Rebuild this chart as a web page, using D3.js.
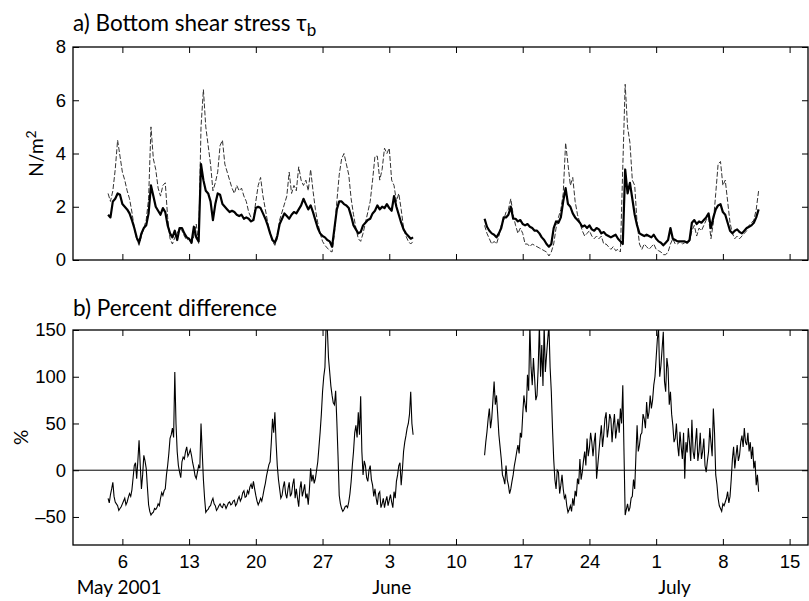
<!DOCTYPE html>
<html lang="en">
<head>
<meta charset="UTF-8">
<title>Bottom shear stress and percent difference</title>
<script src="https://d3js.org/d3.v7.min.js"></script>
<style>
  body { margin: 0; background: #fff; }
  svg { font-family: "Lato", sans-serif; }
</style>
</head>
<body>
<svg id="chart" width="809" height="601"></svg>
<script>
// two records with a gap in June; stress every 6 h, percent every 3 h
const TAU_STEP_HOURS = 6;
const PCT_STEP_HOURS = 3;
const seg1Start = "2001-05-04T12:00Z";
const seg2Start = "2001-06-13T00:00Z";

// a) bottom stress, solid line (N/m^2)
const tauSolid1 = [1.7,1.6,2.2,2.3,2.5,2.45,2.1,2.0,1.9,1.75,1.5,1.2,0.85,0.65,1.0,1.2,1.3,1.75,2.8,2.4,2.0,1.85,1.7,1.95,1.8,1.3,1.0,0.85,1.1,0.75,1.2,1.2,1.0,0.85,0.8,0.65,1.25,0.85,0.7,3.6,3.0,2.6,2.5,2.2,1.5,2.1,2.5,2.45,2.1,2.0,1.9,1.8,1.85,1.8,1.7,1.65,1.7,1.55,1.6,1.55,1.45,1.5,1.95,2.0,1.95,1.75,1.55,1.3,1.0,0.75,0.65,0.9,1.35,1.55,1.75,1.65,1.55,1.7,1.8,1.75,1.9,2.05,2.3,2.1,1.9,2.05,1.8,1.5,1.2,1.0,0.9,0.85,0.75,0.7,0.5,1.2,1.9,2.2,2.2,2.1,2.05,1.95,1.65,1.3,1.15,1.0,1.05,1.3,1.4,1.5,1.55,1.75,1.85,2.05,1.9,2.0,1.95,2.1,1.95,1.85,2.4,2.0,1.7,1.4,1.15,1.0,0.9,0.8,0.85];
const tauSolid2 = [1.55,1.25,1.1,1.0,0.95,0.85,1.0,1.2,1.6,1.6,1.7,2.0,1.55,1.55,1.45,1.5,1.35,1.3,1.35,1.25,1.2,1.1,1.1,1.0,0.85,0.75,0.6,0.5,0.6,1.2,1.45,1.4,1.6,2.2,2.7,2.1,2.0,1.75,1.6,1.5,1.4,1.25,1.3,1.2,1.3,1.15,1.1,1.2,1.15,1.0,1.05,0.95,0.9,0.85,0.9,0.95,0.8,0.7,0.6,3.4,2.5,2.9,2.3,1.7,1.3,1.0,0.95,0.9,0.95,0.9,0.85,0.95,0.8,0.7,0.65,0.55,0.65,0.75,1.2,0.8,0.75,0.7,0.7,0.7,0.7,0.65,0.75,1.4,1.5,1.35,1.45,1.4,1.5,1.6,1.75,1.2,1.6,1.9,2.05,2.1,1.8,1.7,1.4,1.1,1.0,1.1,1.15,1.05,1.0,1.1,1.2,1.25,1.3,1.4,1.6,1.9];

// a) bottom stress, dashed line (N/m^2)
const tauDashed1 = [2.5,2.2,2.6,3.4,4.5,3.9,3.3,3.0,2.6,2.3,1.8,1.2,0.8,0.55,0.9,1.2,1.5,2.3,5.0,3.8,3.4,2.7,2.4,2.8,2.9,1.6,0.8,0.6,0.85,1.0,1.2,1.1,0.9,0.75,0.8,0.6,0.9,1.35,0.6,5.0,6.4,5.0,4.3,3.6,2.6,2.9,3.3,4.3,4.5,3.6,3.3,3.0,2.7,2.5,2.8,2.6,2.7,2.4,2.2,1.8,1.6,1.5,2.2,2.8,3.1,2.4,1.9,1.4,1.0,0.7,0.55,0.8,1.5,1.8,2.1,2.4,3.3,2.5,2.8,2.6,3.5,3.0,2.8,3.0,2.6,3.4,2.6,1.9,1.4,1.0,0.7,0.55,0.45,0.35,0.3,1.0,2.2,3.2,3.8,4.0,3.6,3.2,2.3,1.7,1.2,0.8,0.7,1.0,1.4,1.8,2.2,3.0,3.9,3.9,3.0,3.4,4.2,4.0,4.2,3.0,2.8,2.2,2.5,1.9,1.2,0.9,0.7,0.6,0.7];
const tauDashed2 = [1.3,1.0,0.8,0.6,0.7,0.6,0.9,1.3,1.5,1.8,1.9,2.3,1.7,1.3,1.0,1.2,1.0,0.6,0.6,0.5,0.6,0.55,0.5,0.45,0.4,0.35,0.3,0.15,0.3,0.6,1.2,1.6,1.9,2.5,4.4,3.6,2.8,3.1,2.2,1.7,1.4,1.1,0.9,1.0,1.1,0.9,0.8,0.9,0.8,0.9,0.6,0.6,0.5,0.4,0.5,0.35,0.4,0.3,3.5,6.6,5.0,4.4,3.0,2.8,1.4,0.6,0.4,0.6,0.5,0.4,0.5,0.6,0.4,0.35,0.3,0.2,0.2,0.3,0.6,0.8,0.6,0.6,0.7,0.6,0.65,0.7,0.7,1.1,1.3,0.9,1.2,1.1,1.3,1.5,1.6,0.8,1.4,2.5,3.6,3.7,2.8,3.0,2.2,1.4,1.0,0.8,0.9,0.8,0.9,1.0,1.1,1.3,1.4,1.5,1.9,2.6];

// b) percent difference (%)
const pctDiff1 = [-30,-35,-26,-20,-13,-28,-34,-36,-38,-43,-41,-39,-36,-33,-30,-37,-34,-29,-25,-28,-21,-8,5,8,-9,10,32,5,-20,-5,16,10,2,-18,-37,-44,-48,-46,-45,-41,-42,-40,-36,-38,-30,-24,-27,-22,-20,-5,5,18,34,38,45,35,105,50,20,5,-2,-8,9,14,12,20,25,15,18,22,16,8,2,-6,-9,-2,5,2,50,20,-10,-30,-45,-43,-42,-39,-38,-33,-30,-36,-38,-43,-41,-38,-36,-39,-40,-36,-37,-41,-38,-35,-34,-37,-36,-33,-32,-38,-36,-31,-28,-33,-30,-24,-22,-29,-28,-22,-25,-18,-15,-20,-12,-20,-27,-33,-37,-34,-30,-33,-27,-20,-14,-6,0,6,9,30,55,40,62,30,5,-10,-20,-30,-27,-18,-12,-25,-30,-20,-13,-28,-25,-15,-9,-30,-20,-30,-39,-20,-12,-28,-22,-15,-30,-25,-37,-20,2,-12,-5,-14,-9,0,9,25,41,60,84,100,110,155,152,120,105,90,80,72,70,85,52,15,-27,-36,-41,-44,-42,-39,-38,-40,-34,-25,-12,5,20,40,48,35,62,38,79,20,-5,10,5,-8,-12,0,5,-10,-16,-28,-20,-30,-37,-25,-23,-40,-36,-30,-40,-33,-28,-38,-32,-26,-34,-40,-23,-30,-12,-5,5,8,-16,0,20,30,37,45,50,60,84,50,38];
const pctDiff2 = [16,30,41,55,66,45,55,75,95,70,80,60,38,25,12,-5,-9,-15,5,-10,-16,-25,-20,-12,-5,5,12,20,27,18,40,35,59,80,70,62,102,85,155,110,91,120,98,75,80,110,155,100,134,90,155,105,123,140,155,110,84,45,12,-10,-20,0,-2,-25,-16,-5,-20,-30,-27,-38,-45,-42,-38,-44,-30,-38,-22,-28,-9,-15,12,-10,-2,10,20,5,34,15,24,40,30,15,30,40,-9,5,20,35,48,25,38,55,62,35,45,60,55,30,48,60,34,45,55,40,66,50,91,20,-48,-42,-36,-44,-40,-30,-28,-10,-20,15,48,20,27,38,40,60,55,45,73,55,62,80,66,75,91,100,120,140,152,100,112,130,148,95,84,120,109,70,84,60,48,30,34,50,27,15,41,25,12,40,-9,30,19,45,30,10,54,20,12,30,45,10,20,40,12,20,34,5,-2,10,20,45,30,15,66,40,-5,-15,-30,-38,-41,-44,-36,-38,-34,-30,-23,-35,-28,-10,12,25,2,15,27,10,16,30,37,25,45,30,27,40,20,30,12,25,2,10,-16,-5,-23];

// axes
const xDomain = ["2001-04-30T19:40Z", "2001-07-16T22:20Z"];
const tickDates = ["2001-05-06","2001-05-13","2001-05-20","2001-05-27","2001-06-03","2001-06-10","2001-06-17","2001-06-24","2001-07-01","2001-07-08","2001-07-15"];
const monthNames = ["May 2001", "June", "July"];
const monthStarts = ["2001-05-01", "2001-06-01", "2001-07-01"];
const tauTicks = [0, 2, 4, 6, 8];
const pctTicks = [-50, 0, 50, 100, 150];

const svg = d3.select("#chart");
const left = 73, right = 808;
const topPanel = { y0: 47, y1: 260 };
const botPanel = { y0: 330, y1: 545 };

const x = d3.scaleUtc()
    .domain(xDomain.map(d => new Date(d)))
    .range([left, right]);

const yTau = d3.scaleLinear().domain([0, 8]).range([topPanel.y1, topPanel.y0]);
const yPct = d3.scaleLinear().domain([-80, 150]).range([botPanel.y1, botPanel.y0]);

function toSeries(start, values, step) {
    const t0 = new Date(start);
    return values.map((v, i) => ({ date: d3.utcHour.offset(t0, i * step), value: v }));
}

const ticks = tickDates.map(d => new Date(d + "T00:00Z"));

function frame(panel, y, yTicks, showX, id) {
    const g = svg.append("g");

    svg.append("clipPath").attr("id", id)
        .append("rect")
        .attr("x", left).attr("y", panel.y0)
        .attr("width", right - left).attr("height", panel.y1 - panel.y0);

    // inward ticks on all four sides
    g.append("g")
        .attr("transform", `translate(${left},0)`)
        .call(d3.axisLeft(y).tickValues(yTicks).tickSizeInner(-6).tickSizeOuter(0).tickPadding(7)
            .tickFormat(d => d < 0 ? "\u2013" + Math.abs(d) : d));
    g.append("g")
        .attr("transform", `translate(${right},0)`)
        .call(d3.axisRight(y).tickValues(yTicks).tickSizeInner(-6).tickSizeOuter(0).tickFormat(""));
    g.append("g")
        .attr("transform", `translate(0,${panel.y0})`)
        .call(d3.axisTop(x).tickValues(ticks).tickSizeInner(-6).tickSizeOuter(0).tickFormat(""));
    g.append("g")
        .attr("transform", `translate(0,${panel.y1})`)
        .call(d3.axisBottom(x).tickValues(ticks).tickSizeInner(-6).tickSizeOuter(0).tickPadding(10)
            .tickFormat(showX ? d3.utcFormat("%-d") : ""));

    g.selectAll(".domain").remove();
    g.selectAll(".tick line").attr("stroke", "#000").attr("stroke-width", 1);
    g.selectAll(".tick text").attr("fill", "#000").style("font-size", "18.5px");

    return g;
}

function border(panel) {
    svg.append("rect")
        .attr("x", left).attr("y", panel.y0)
        .attr("width", right - left).attr("height", panel.y1 - panel.y0)
        .attr("fill", "none").attr("stroke", "#000").attr("stroke-width", 1.3);
}

// ---- panel a ----
frame(topPanel, yTau, tauTicks, false, "clipTop");

const lineTau = d3.line().x(d => x(d.date)).y(d => yTau(d.value));

[[seg1Start, tauDashed1], [seg2Start, tauDashed2]].forEach(([s, v]) => {
    svg.append("path")
        .datum(toSeries(s, v, TAU_STEP_HOURS))
        .attr("clip-path", "url(#clipTop)")
        .attr("fill", "none")
        .attr("stroke", "#333")
        .attr("stroke-width", 1)
        .attr("stroke-dasharray", "5,2")
        .attr("d", lineTau);
});

[[seg1Start, tauSolid1], [seg2Start, tauSolid2]].forEach(([s, v]) => {
    svg.append("path")
        .datum(toSeries(s, v, TAU_STEP_HOURS))
        .attr("clip-path", "url(#clipTop)")
        .attr("fill", "none")
        .attr("stroke", "#000")
        .attr("stroke-width", 2.2)
        .attr("stroke-linejoin", "round")
        .attr("d", lineTau);
});

border(topPanel);

// ---- panel b ----
frame(botPanel, yPct, pctTicks, true, "clipBot");

svg.append("line")
    .attr("x1", left).attr("x2", right)
    .attr("y1", yPct(0)).attr("y2", yPct(0))
    .attr("stroke", "#000").attr("stroke-width", 1);

const linePct = d3.line().x(d => x(d.date)).y(d => yPct(d.value));

[[seg1Start, pctDiff1], [seg2Start, pctDiff2]].forEach(([s, v]) => {
    svg.append("path")
        .datum(toSeries(s, v, PCT_STEP_HOURS))
        .attr("clip-path", "url(#clipBot)")
        .attr("fill", "none")
        .attr("stroke", "#000")
        .attr("stroke-width", 1.1)
        .attr("d", linePct);
});

border(botPanel);

// ---- text ----
const titleA = svg.append("text")
    .attr("x", left).attr("y", 31)
    .style("font-size", "22.5px");
titleA.append("tspan").text("a) Bottom shear stress  ");
titleA.append("tspan").text("\u03c4");
titleA.append("tspan").attr("dy", 5).style("font-size", "17px").text("b");

svg.append("text")
    .attr("x", left).attr("y", 316)
    .style("font-size", "22.5px")
    .text("b) Percent difference");

const yLabA = svg.append("text")
    .attr("transform", `translate(43,${(topPanel.y0 + topPanel.y1) / 2}) rotate(-90)`)
    .attr("text-anchor", "middle")
    .style("font-size", "19px");
yLabA.append("tspan").text("N/m");
yLabA.append("tspan").attr("dy", -7).style("font-size", "14px").text("2");

svg.append("text")
    .attr("transform", `translate(28,${(botPanel.y0 + botPanel.y1) / 2}) rotate(-90)`)
    .attr("text-anchor", "middle")
    .style("font-size", "19px")
    .text("%");

svg.selectAll(".month")
    .data(monthNames)
    .enter()
    .append("text")
    .attr("class", "month")
    .attr("x", (d, i) => x(new Date(monthStarts[i] + "T00:00Z")) + 2)
    .attr("y", 594)
    .style("font-size", "19px")
    .text(d => d);
</script>
</body>
</html>
